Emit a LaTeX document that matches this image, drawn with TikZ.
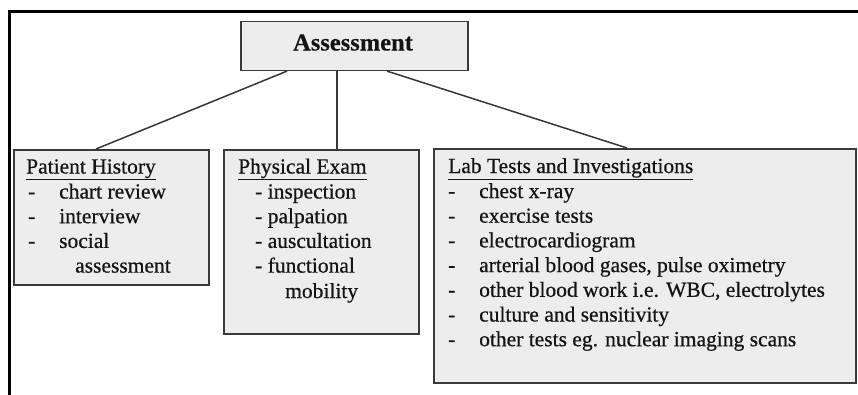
\documentclass[tikz,border=0pt]{standalone}
\usepackage{fontspec}
\setmainfont{Liberation Serif}[FakeBold=0.6]
\newfontfamily\boldface{Liberation Serif Bold}[FakeBold=0.4]
\definecolor{boxfill}{HTML}{EDEDED}
\definecolor{boxline}{HTML}{3A3A3A}
\definecolor{ink}{HTML}{141414}
\begin{document}
\begin{tikzpicture}[x=1pt,y=-1pt,
  box/.style={draw=boxline, line width=1.6pt, fill=boxfill, rectangle, inner sep=0pt, anchor=north west},
  txt/.style={anchor=base west, inner sep=0pt, text=ink, font=\fontsize{21.5}{25}\selectfont},
  head/.style={txt},
  conn/.style={draw=ink!85, line width=1.5pt},
  frame/.style={draw=black, line width=3pt}]
\useasboundingbox (0,0) rectangle (858,394);
% outer frame (top and left edges)
\coordinate (ftl) at (9,11);
\coordinate (ftr) at (860,11);
\coordinate (fbl) at (9,396);
\draw[frame] (ftr) -- (ftl) -- (fbl);
% boxes
\node[box, minimum width=227pt, minimum height=49pt] (as) at (240,20.5) {};
\node[anchor=base, inner sep=0pt, text=ink, font=\fontsize{24.5}{28}\boldface] (astxt) at (353,50.5) {Assessment};
\node[box, minimum width=195pt, minimum height=135pt] (ph) at (13,149) {};
\node[box, minimum width=195pt, minimum height=184pt] (pe) at (223,149) {};
\node[box, minimum width=422pt, minimum height=234pt] (lab) at (433,148) {};
% connectors
\draw[conn] ([xshift=47pt]as.south west) -- ([xshift=83pt]ph.north west);
\draw[conn] ([xshift=97pt]as.south west) -- ([xshift=114pt]pe.north west);
\draw[conn] ([xshift=147pt]as.south west) -- ([xshift=194pt]lab.north west);
% Patient History
\node[head] (ph0) at (26,173.5) {\underline{Patient History}};
\node[txt] (ph1d) at (28,198.5) {-};
\node[txt] (ph1) at (59,198.5) {chart review};
\node[txt] (ph2d) at (28,223.2) {-};
\node[txt] (ph2) at (59,223.2) {interview};
\node[txt] (ph3d) at (28,247.9) {-};
\node[txt] (ph3) at (59,247.9) {social};
\node[txt] (ph4) at (75,272.6) {assessment};
% Physical Exam
\node[head] (pe0) at (238,173.5) {\underline{Physical Exam}};
\node[txt] (pe1) at (255,198.5) {- inspection};
\node[txt] (pe2) at (255,223.2) {- palpation};
\node[txt] (pe3) at (255,247.9) {- auscultation};
\node[txt] (pe4) at (255,272.6) {- functional};
\node[txt] (pe5) at (285,298) {mobility};
% Lab Tests
\node[head] (lb0) at (448,173) {\underline{Lab Tests and Investigations}};
\foreach \i/\t [count=\k] in {198/{chest x-ray},
  222.7/{exercise tests},
  247.4/{electrocardiogram},
  272.1/{arterial blood gases, pulse oximetry},
  296.8/{other blood work i.e. WBC, electrolytes},
  321.5/{culture and sensitivity},
  346.2/{other tests eg. nuclear imaging scans}}{
  \node[txt] (lbd\k) at (448,\i) {-};
  \node[txt] (lb\k) at (479,\i) {\t};
}
\end{tikzpicture}
\end{document}
